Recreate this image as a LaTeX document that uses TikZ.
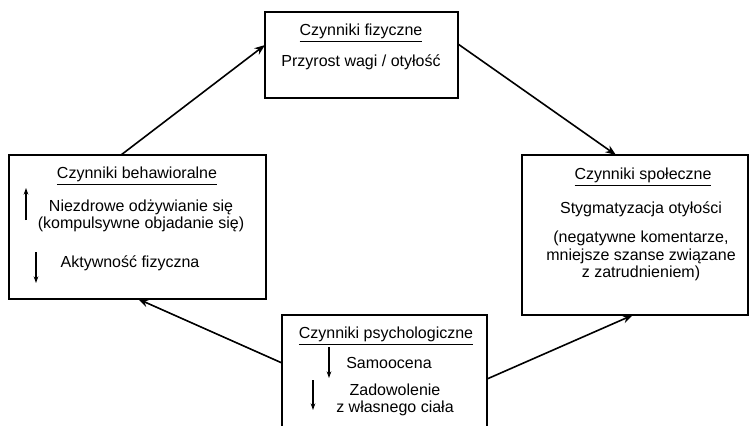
\documentclass[tikz,border=0pt]{standalone}
\usepackage{fontspec}
\setmainfont{Liberation Sans}
\usetikzlibrary{arrows.meta}

\tikzset{
  box/.style={draw, line width=0.9pt, inner sep=0pt},
  txt/.style={align=center, inner sep=0pt, font=\fontsize{12}{13}\selectfont},
  flow/.style={-{Stealth[length=8pt,width=6pt]}, line width=1.2pt},
  trend/.style={-{Stealth[length=5pt,width=3.5pt]}, line width=0.9pt},
}

\begin{document}
\begin{tikzpicture}[x=0.75pt, y=-0.75pt]
    \useasboundingbox (0,0) rectangle (749,425);
    \clip (0,0) rectangle (749,425);

    % the four boxes
    \node[box, minimum width=144.75pt, minimum height=64.5pt] (fiz) at (361.5,55) {};
    \node[box, minimum width=192.75pt, minimum height=108pt] (beh) at (137.5,227) {};
    \node[box, minimum width=169.5pt, minimum height=120pt] (spo) at (635,235) {};
    \node[box, minimum width=153.75pt, minimum height=97.5pt] (psy) at (384.5,380) {};

    % the texts
    \node[txt] (fiz-t) at (361,33) {\underline{Czynniki fizyczne}};
    \node[txt] (fiz-a) at (361,62) {Przyrost wagi / otyłość};
    %
    \node[txt] (beh-t) at (137,176) {\underline{Czynniki behawioralne}};
    \node[txt] (beh-a) at (141,216) {Niezdrowe odżywianie się\\(kompulsywne objadanie się)};
    \node[txt] (beh-b) at (130,263) {Aktywność fizyczna};
    %
    \node[txt] (spo-t) at (643,177) {\underline{Czynniki społeczne}};
    \node[txt] (spo-a) at (641,209) {Stygmatyzacja otyłości};
    \node[txt] (spo-b) at (641,256) {(negatywne komentarze,\\mniejsze szanse związane\\z zatrudnieniem)};
    %
    \node[txt] (psy-t) at (386,336) {\underline{Czynniki psychologiczne}};
    \node[txt] (psy-a) at (389,363) {Samoocena};
    \node[txt] (psy-b) at (395,400) {Zadowolenie\\z własnego ciała};

    % the small trend arrows
    \coordinate (beh-up1) at (26,220);
    \coordinate (beh-up2) at (26,188);
    \coordinate (beh-dn1) at (36,252);
    \coordinate (beh-dn2) at (36,283);
    \coordinate (psy-dn1) at (329,347);
    \coordinate (psy-dn2) at (329,378);
    \coordinate (psy-dn3) at (313,380);
    \coordinate (psy-dn4) at (313,410);
    \draw[trend] (beh-up1) -- (beh-up2);
    \draw[trend] (beh-dn1) -- (beh-dn2);
    \draw[trend] (psy-dn1) -- (psy-dn2);
    \draw[trend] (psy-dn3) -- (psy-dn4);

    % the points where the connectors meet the boxes
    \coordinate (beh-out) at (121,155);
    \coordinate (fiz-in) at (265,45);
    \coordinate (fiz-out) at (458,44);
    \coordinate (spo-in) at (616,155);
    \coordinate (psy-out1) at (487,379);
    \coordinate (spo-in2) at (633,315);
    \coordinate (psy-out2) at (282,363);
    \coordinate (beh-in) at (138,299);

    % draw the arrows
    \draw[flow] (beh-out) -- (fiz-in);
    \draw[flow] (fiz-out) -- (spo-in);
    \draw[flow] (psy-out1) -- (spo-in2);
    \draw[flow] (psy-out2) -- (beh-in);
\end{tikzpicture}
\end{document}
